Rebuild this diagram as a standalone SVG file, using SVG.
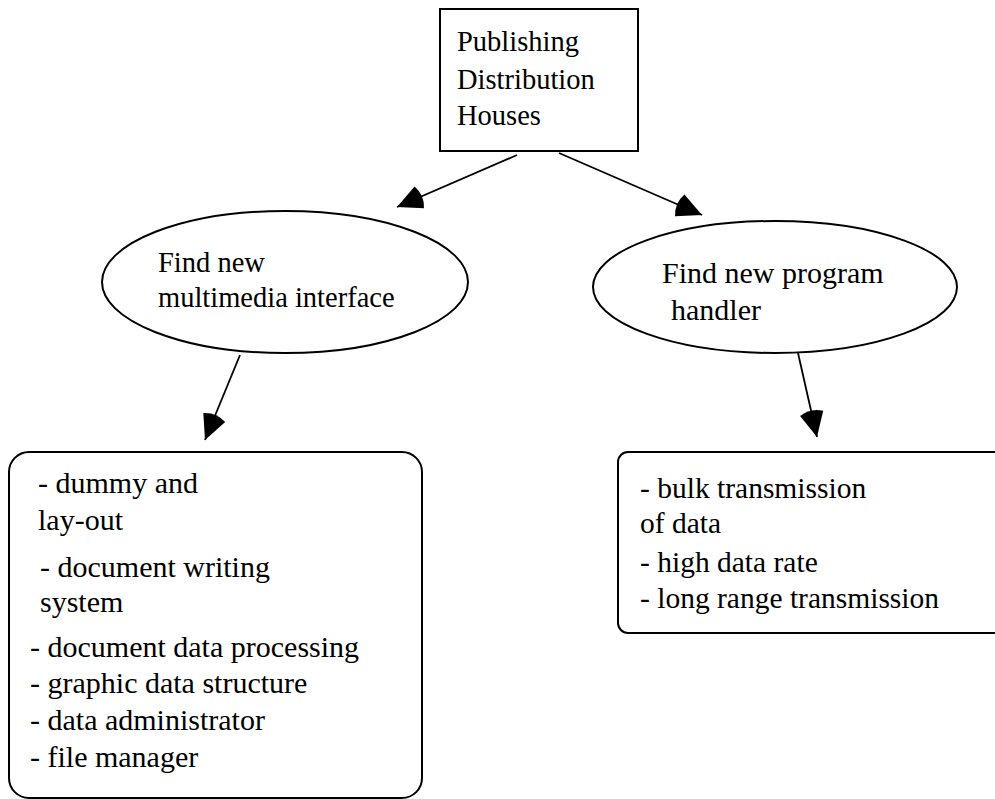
<svg xmlns="http://www.w3.org/2000/svg" width="995" height="799" viewBox="0 0 995 799">
  <style>
    .shape { fill: #ffffff; stroke: #000000; stroke-width: 2; }
    .edge { fill: none; stroke: #000000; stroke-width: 1.8; marker-end: url(#head); }
    text { font-family: "Liberation Serif", "Times New Roman", serif; fill: #000000; }
    .t28 { font-size: 28.5px; }
    .t30 { font-size: 30px; }
    .t29 { font-size: 29.5px; }
  </style>
  <defs>
    <!-- filled wedge arrowhead: tip at the line end, rounded back edge -->
    <marker id="head" markerUnits="userSpaceOnUse" orient="auto" markerWidth="30" markerHeight="26" refX="28" refY="13" overflow="visible">
      <path d="M28,13 L3.73,1.16 A27,27 0 0 0 3.73,24.84 Z" fill="#000000"/>
    </marker>
  </defs>

  <rect width="995" height="799" fill="#ffffff"/>

  <g id="connectors">
    <line class="edge" x1="517" y1="155" x2="397" y2="207"/>
    <line class="edge" x1="559" y1="153" x2="702" y2="215"/>
    <line class="edge" x1="240" y1="355" x2="205" y2="440"/>
    <line class="edge" x1="798" y1="353" x2="817" y2="437"/>
  </g>

  <g id="publishing">
    <rect class="shape" x="440" y="9" width="198" height="142"/>
    <text class="t28" x="457" y="51">Publishing</text>
    <text class="t28" x="457" y="89">Distribution</text>
    <text class="t28" x="457" y="125">Houses</text>
  </g>

  <g id="multimedia">
    <ellipse class="shape" cx="285" cy="282" rx="183" ry="71"/>
    <text class="t28" x="158" y="272">Find new</text>
    <text class="t28" x="158" y="307">multimedia interface</text>
  </g>

  <g id="handler">
    <ellipse class="shape" cx="775" cy="287" rx="182" ry="66"/>
    <text class="t30" x="662" y="283">Find new program</text>
    <text class="t30" x="671" y="320">handler</text>
  </g>

  <g id="interface-tasks">
    <rect class="shape" x="9" y="452" width="413" height="346" rx="20" ry="20"/>
    <text class="t30" x="38" y="493">- dummy and</text>
    <text class="t30" x="38" y="530">lay-out</text>
    <text class="t30" x="40" y="577">- document writing</text>
    <text class="t30" x="40" y="612">system</text>
    <text class="t30" x="30" y="657">- document data processing</text>
    <text class="t30" x="30" y="693">- graphic data structure</text>
    <text class="t30" x="30" y="730">- data administrator</text>
    <text class="t30" x="30" y="767">- file manager</text>
  </g>

  <g id="handler-tasks">
    <rect class="shape" x="618" y="452" width="400" height="181" rx="10" ry="10"/>
    <text class="t29" x="640" y="498">- bulk transmission</text>
    <text class="t29" x="640" y="533">of data</text>
    <text class="t29" x="640" y="572">- high data rate</text>
    <text class="t29" x="640" y="608">- long range transmission</text>
  </g>
</svg>
